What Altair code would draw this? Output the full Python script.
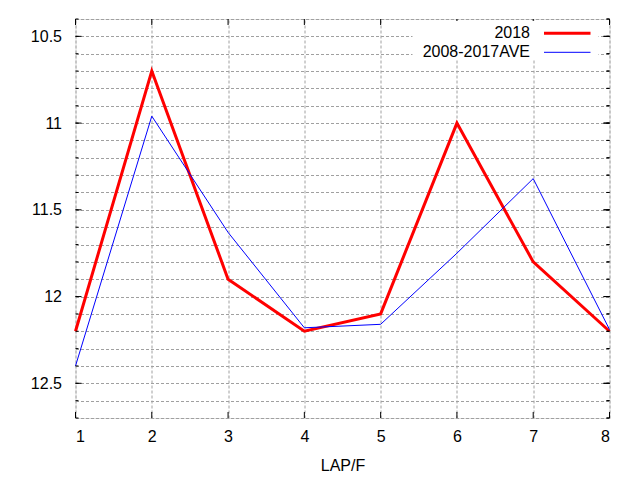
import altair as alt
import pandas as pd

laps = [1, 2, 3, 4, 5, 6, 7, 8]
y2018 = [12.2, 10.7, 11.9, 12.2, 12.1, 11.0, 11.8, 12.2]
yave = [12.4, 10.96, 11.63, 12.18, 12.16, 11.75, 11.32, 12.19]
series_names = ["2018", "2008-2017AVE"]
series_colors = ["#ff0000", "#0000ff"]

y_grid_values = [10.4, 10.5, 10.6, 10.7, 10.8, 10.9, 11.0, 11.1, 11.2, 11.3, 11.4,
                 11.5, 11.6, 11.7, 11.8, 11.9, 12.0, 12.1, 12.2, 12.3, 12.4, 12.5,
                 12.6, 12.7]
y_major = [10.5, 11.0, 11.5, 12.0, 12.5]

df = pd.DataFrame({
    "lap": laps * 2,
    "time": y2018 + yave,
    "series": [series_names[0]] * len(laps) + [series_names[1]] * len(laps),
})
ticks_df = pd.DataFrame({"time": y_grid_values})
major_df = pd.DataFrame({"time": y_major})
xt_df = pd.DataFrame({"lap": laps})

W, H = 534, 399
FONT = "Liberation Sans"
FS = 16

xscale = alt.Scale(domain=[1, 8], nice=False, zero=False)
yscale = alt.Scale(domain=[10.4, 12.7], nice=False, zero=False, reverse=True)

label_expr = ("abs(datum.value*2 - round(datum.value*2)) < 0.001 ? "
              "format(datum.value, '~g') : ''")

x_axis = alt.Axis(values=laps, grid=True, gridDash=[3, 2], gridColor="#a0a0a0",
                  gridOpacity=1, ticks=False, domain=False, labelPadding=10,
                  labelFontSize=FS, labelFont=FONT, labelColor="#000",
                  labelOverlap=False,
                  titleFont=FONT, titleFontSize=FS, titleFontWeight="normal",
                  titlePadding=13, titleColor="#000", format="d")
y_axis = alt.Axis(values=y_grid_values, grid=True, gridDash=[3, 2],
                  gridColor="#a0a0a0", gridOpacity=1, ticks=False, domain=False,
                  labelExpr=label_expr, labelPadding=14, labelFontSize=FS,
                  labelOverlap=False, labelFont=FONT, labelColor="#000")

X = lambda: alt.X("lap:Q", scale=xscale, title="LAP/F", axis=x_axis)
Y = lambda: alt.Y("time:Q", scale=yscale, title=None, axis=y_axis)

lines = alt.Chart(df).mark_line().encode(
    x=X(), y=Y(),
    color=alt.Color("series:N", scale=alt.Scale(domain=series_names, range=series_colors),
                    legend=None),
    strokeWidth=alt.StrokeWidth("series:N",
                                scale=alt.Scale(domain=series_names, range=[3, 1]),
                                legend=None),
    order=alt.Order("lap:Q"),
)

def yt(data, x0, x1):
    return alt.Chart(data).mark_rule(color="#000", strokeWidth=1).encode(
        y=Y(), x=alt.value(x0), x2=alt.value(x1))

def xt(y0, y1):
    return alt.Chart(xt_df).mark_rule(color="#000", strokeWidth=1).encode(
        x=X(), y=alt.value(y0), y2=alt.value(y1))

tick_layers = [
    yt(ticks_df, 0, 3), yt(ticks_df, W, W - 3),
    yt(major_df, 0, 6), yt(major_df, W, W - 6),
    xt(H, H - 6), xt(0, 6),
]

key_box = alt.Chart(pd.DataFrame({"k": [0]})).mark_rect(color="white").encode(
    x=alt.value(337), x2=alt.value(523), y=alt.value(2), y2=alt.value(41))

def key_item(i, ytext, yline, width):
    t = alt.Chart(pd.DataFrame({"label": [series_names[i]]})).mark_text(
        align="right", baseline="middle", font=FONT, fontSize=FS, color="#000"
    ).encode(text="label:N", x=alt.value(454.5), y=alt.value(ytext))
    r = alt.Chart(pd.DataFrame({"label": [series_names[i]]})).mark_rule(
        color=series_colors[i], strokeWidth=width
    ).encode(x=alt.value(468.5), x2=alt.value(515), y=alt.value(yline))
    return [t, r]

key_layers = [key_box] + key_item(0, 13.5, 14.3, 3) + key_item(1, 33, 33.3, 1)

# re-draw right ticks on top of key box
top_ticks = [yt(ticks_df, W, W - 3), yt(major_df, W, W - 6)]

chart = alt.layer(lines, *tick_layers, *key_layers, *top_ticks).properties(
    width=W, height=H,
    autosize=alt.AutoSizeParams(type="none"),
    padding={"left": 67.5, "top": 11, "right": 22, "bottom": 60},
).configure_view(stroke="#000", strokeWidth=1).configure(background="white")

chart.save("out.html", embed_options={"renderer": "svg", "actions": False})
